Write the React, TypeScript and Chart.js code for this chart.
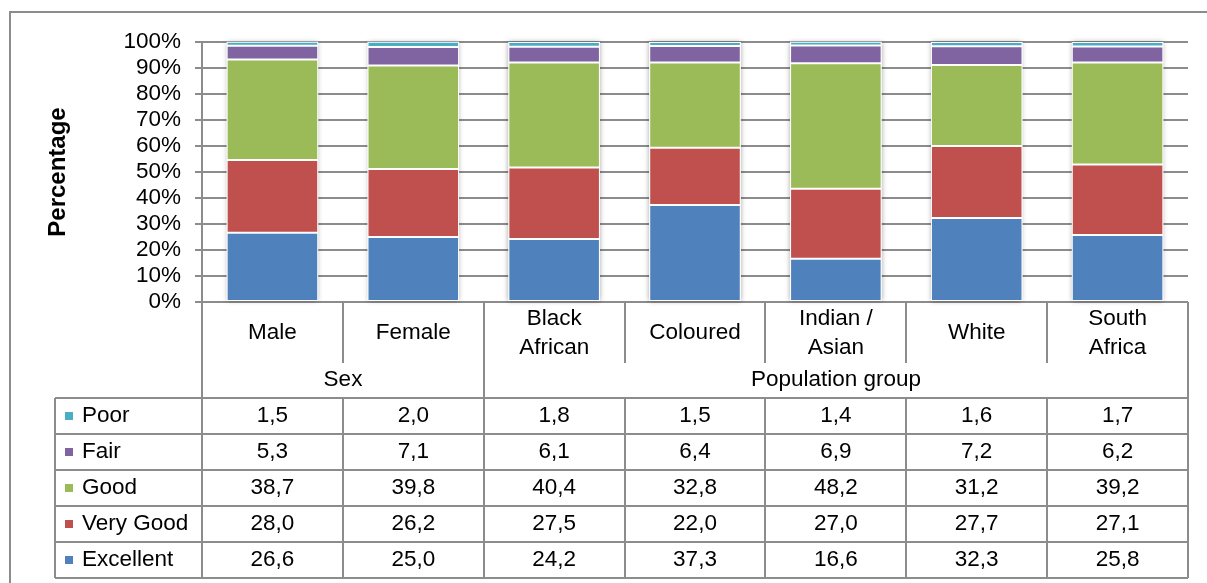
import React, { useEffect, useRef } from 'react';
import { Chart, registerables } from 'chart.js';

Chart.register(...registerables);

// ---- data ----
const categoryLines: string[][] = [
  ['Male'],
  ['Female'],
  ['Black', 'African'],
  ['Coloured'],
  ['Indian /', 'Asian'],
  ['White'],
  ['South', 'Africa'],
];
const categories = categoryLines.map((l) => l.join(' '));
const groupLabels = ['Sex', 'Population group'];
const groupSpans = [2, 5];

const seriesNames = ['Excellent', 'Very Good', 'Good', 'Fair', 'Poor'];
const excellent = [26.6, 25.0, 24.2, 37.3, 16.6, 32.3, 25.8];
const veryGood = [28.0, 26.2, 27.5, 22.0, 27.0, 27.7, 27.1];
const good = [38.7, 39.8, 40.4, 32.8, 48.2, 31.2, 39.2];
const fair = [5.3, 7.1, 6.1, 6.4, 6.9, 7.2, 6.2];
const poor = [1.5, 2.0, 1.8, 1.5, 1.4, 1.6, 1.7];
const seriesValues = [excellent, veryGood, good, fair, poor];
const seriesColors = ['#4F81BD', '#C0504D', '#9BBB59', '#8064A2', '#4BACC6'];

const yMax = 100;
const yStep = 10;
const yTitle = 'Percentage';

// ---- styles ----
const FONT = '"Liberation Sans", Arial, sans-serif';
const LINE = '#8c8c8c';
const TEXT_SIZE = 22.5;

const fmt = (v: number) => v.toFixed(1).replace('.', ',');

const tablePlugin = {
  id: 'dataTable',
  beforeDraw(chart: any) {
    const ctx = chart.ctx as CanvasRenderingContext2D;
    ctx.save();
    ctx.strokeStyle = LINE;
    ctx.lineWidth = 2;
    ctx.beginPath();
    ctx.moveTo(10, chart.height + 5);
    ctx.lineTo(10, 12);
    ctx.lineTo(chart.width + 5, 12);
    ctx.stroke();
    ctx.restore();
  },
  beforeDatasetsDraw(chart: any) {
    const ctx = chart.ctx as CanvasRenderingContext2D;
    const metaBottom = chart.getDatasetMeta(0);
    const metaTop = chart.getDatasetMeta(chart.data.datasets.length - 1);
    ctx.save();
    ctx.shadowColor = 'rgba(0,0,0,0.35)';
    ctx.shadowBlur = 5;
    ctx.fillStyle = '#ffffff';
    metaBottom.data.forEach((bar: any, i: number) => {
      const t = metaTop.data[i];
      const w = bar.width;
      ctx.fillRect(bar.x - w / 2, t.y, w, bar.base - t.y);
    });
    ctx.restore();
  },
  afterDraw(chart: any) {
    const ctx = chart.ctx as CanvasRenderingContext2D;
    const area = chart.chartArea;
    const xs = chart.scales.x;
    const n = categoryLines.length;
    const edge = (k: number) => Math.round(xs.getPixelForValue(k - 0.5));
    const top = Math.round(area.bottom);
    const headerSplit = top + 61;
    const rowsTop = top + 96;
    const rowH = 36;
    const rows = seriesNames.length;
    const bottom = rowsTop + rowH * rows;
    const legendLeft = 55;
    const right = edge(n);

    ctx.save();
    ctx.strokeStyle = LINE;
    ctx.lineWidth = 2;
    ctx.beginPath();
    for (let r = 0; r <= rows; r++) {
      const y = rowsTop + r * rowH;
      ctx.moveTo(legendLeft, y);
      ctx.lineTo(right, y);
    }
    ctx.moveTo(legendLeft, rowsTop);
    ctx.lineTo(legendLeft, bottom);
    const groupEdges = new Set<number>([0]);
    let acc = 0;
    groupSpans.forEach((s) => {
      acc += s;
      groupEdges.add(acc);
    });
    for (let k = 0; k <= n; k++) {
      const x = edge(k);
      if (groupEdges.has(k)) {
        ctx.moveTo(x, top);
        ctx.lineTo(x, bottom);
      } else {
        ctx.moveTo(x, top);
        ctx.lineTo(x, headerSplit);
        ctx.moveTo(x, rowsTop);
        ctx.lineTo(x, bottom);
      }
    }
    ctx.stroke();

    ctx.fillStyle = '#000000';
    ctx.font = `${TEXT_SIZE}px ${FONT}`;
    ctx.textAlign = 'center';
    ctx.textBaseline = 'middle';
    const lineGap = 29;
    categoryLines.forEach((lines, i) => {
      const cx = xs.getPixelForValue(i);
      const cy = top + 31;
      const start = cy - ((lines.length - 1) * lineGap) / 2;
      lines.forEach((t, j) => ctx.fillText(t, cx, start + j * lineGap));
    });
    let g0 = 0;
    groupLabels.forEach((label, gi) => {
      const g1 = g0 + groupSpans[gi];
      const cx = (edge(g0) + edge(g1)) / 2;
      ctx.fillText(label, cx, top + 78);
      g0 = g1;
    });

    for (let r = 0; r < rows; r++) {
      const si = rows - 1 - r;
      const cy = rowsTop + r * rowH + rowH / 2;
      ctx.textAlign = 'center';
      seriesValues[si].forEach((v, i) => {
        ctx.fillText(fmt(v), xs.getPixelForValue(i), cy);
      });
      ctx.fillStyle = seriesColors[si];
      ctx.fillRect(65, cy - 4, 8, 8);
      ctx.fillStyle = '#000000';
      ctx.textAlign = 'left';
      ctx.fillText(seriesNames[si], 82, cy);
    }
    ctx.restore();
  },
};

export default function App() {
  const ref = useRef<HTMLCanvasElement | null>(null);

  useEffect(() => {
    if (!ref.current) return;
    const chart = new Chart(ref.current, {
      type: 'bar',
      data: {
        labels: categories,
        datasets: seriesNames.map((name, i) => ({
          label: name,
          data: seriesValues[i],
          backgroundColor: seriesColors[i],
          borderColor: '#ffffff',
          borderWidth: 1,
          borderSkipped: false,
          barPercentage: 0.65,
          categoryPercentage: 1,
        })),
      },
      options: {
        animation: false,
        responsive: true,
        maintainAspectRatio: false,
        layout: { padding: { left: 10, top: 42, right: 19, bottom: 281 } },
        plugins: {
          legend: { display: false },
          tooltip: { enabled: false },
        },
        scales: {
          x: {
            stacked: true,
            display: false,
          },
          y: {
            stacked: true,
            min: 0,
            max: yMax,
            afterFit: (scale: any) => {
              scale.width = 192;
            },
            ticks: {
              stepSize: yStep,
              autoSkip: false,
              color: '#000000',
              padding: 14,
              font: { family: FONT, size: TEXT_SIZE, lineHeight: 1 },
              callback: (v: any) => `${v}%`,
            },
            grid: {
              color: LINE,
              lineWidth: 2,
              tickLength: 7,
              drawTicks: true,
            },
            border: { display: true, color: LINE, width: 2 },
            title: {
              display: true,
              text: yTitle,
              color: '#000000',
              font: { family: FONT, size: 24, weight: 'bold' },
              padding: { top: 34, bottom: 0 },
            },
          },
        },
      },
      plugins: [tablePlugin],
    });
    return () => chart.destroy();
  }, []);

  return (
    <div style={{ position: 'absolute', left: 0, top: 0, width: 1207, height: 583, background: '#ffffff' }}>
      <canvas ref={ref} />
    </div>
  );
}
